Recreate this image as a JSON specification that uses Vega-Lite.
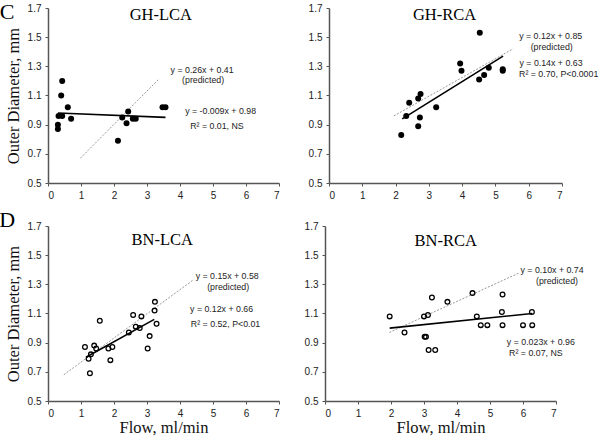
{
  "$schema": "https://vega.github.io/schema/vega-lite/v6.json",
  "padding": {"left": -1, "top": 0, "right": 0, "bottom": 0},
  "background": "white",
  "datasets": {
    "points": [
      {"panel": "GH-LCA", "flow": 0.30, "od": 0.87},
      {"panel": "GH-LCA", "flow": 0.30, "od": 0.90},
      {"panel": "GH-LCA", "flow": 0.32, "od": 0.96},
      {"panel": "GH-LCA", "flow": 0.43, "od": 0.96},
      {"panel": "GH-LCA", "flow": 0.40, "od": 1.10},
      {"panel": "GH-LCA", "flow": 0.43, "od": 1.20},
      {"panel": "GH-LCA", "flow": 0.60, "od": 1.02},
      {"panel": "GH-LCA", "flow": 0.70, "od": 0.94},
      {"panel": "GH-LCA", "flow": 2.12, "od": 0.79},
      {"panel": "GH-LCA", "flow": 2.25, "od": 0.95},
      {"panel": "GH-LCA", "flow": 2.38, "od": 0.91},
      {"panel": "GH-LCA", "flow": 2.43, "od": 0.99},
      {"panel": "GH-LCA", "flow": 2.57, "od": 0.94},
      {"panel": "GH-LCA", "flow": 2.66, "od": 0.94},
      {"panel": "GH-LCA", "flow": 3.47, "od": 1.02},
      {"panel": "GH-LCA", "flow": 3.56, "od": 1.02},
      {"panel": "GH-RCA", "flow": 2.17, "od": 0.83},
      {"panel": "GH-RCA", "flow": 2.32, "od": 0.96},
      {"panel": "GH-RCA", "flow": 2.41, "od": 1.05},
      {"panel": "GH-RCA", "flow": 2.68, "od": 1.08},
      {"panel": "GH-RCA", "flow": 2.75, "od": 1.11},
      {"panel": "GH-RCA", "flow": 2.68, "od": 0.89},
      {"panel": "GH-RCA", "flow": 2.73, "od": 0.95},
      {"panel": "GH-RCA", "flow": 3.22, "od": 1.02},
      {"panel": "GH-RCA", "flow": 3.94, "od": 1.32},
      {"panel": "GH-RCA", "flow": 3.98, "od": 1.27},
      {"panel": "GH-RCA", "flow": 4.53, "od": 1.53},
      {"panel": "GH-RCA", "flow": 4.51, "od": 1.21},
      {"panel": "GH-RCA", "flow": 4.66, "od": 1.24},
      {"panel": "GH-RCA", "flow": 4.80, "od": 1.29},
      {"panel": "GH-RCA", "flow": 5.22, "od": 1.28},
      {"panel": "GH-RCA", "flow": 5.22, "od": 1.27},
      {"panel": "BN-LCA", "flow": 1.12, "od": 0.87},
      {"panel": "BN-LCA", "flow": 1.40, "od": 0.88},
      {"panel": "BN-LCA", "flow": 1.46, "od": 0.86},
      {"panel": "BN-LCA", "flow": 1.30, "od": 0.82},
      {"panel": "BN-LCA", "flow": 1.23, "od": 0.79},
      {"panel": "BN-LCA", "flow": 1.27, "od": 0.69},
      {"panel": "BN-LCA", "flow": 1.57, "od": 1.05},
      {"panel": "BN-LCA", "flow": 1.83, "od": 0.86},
      {"panel": "BN-LCA", "flow": 1.95, "od": 0.87},
      {"panel": "BN-LCA", "flow": 1.89, "od": 0.78},
      {"panel": "BN-LCA", "flow": 2.45, "od": 0.97},
      {"panel": "BN-LCA", "flow": 2.58, "od": 1.09},
      {"panel": "BN-LCA", "flow": 2.66, "od": 1.01},
      {"panel": "BN-LCA", "flow": 2.78, "od": 1.00},
      {"panel": "BN-LCA", "flow": 2.83, "od": 1.08},
      {"panel": "BN-LCA", "flow": 3.08, "od": 0.945},
      {"panel": "BN-LCA", "flow": 3.02, "od": 0.86},
      {"panel": "BN-LCA", "flow": 3.24, "od": 1.18},
      {"panel": "BN-LCA", "flow": 3.23, "od": 1.12},
      {"panel": "BN-LCA", "flow": 3.29, "od": 1.03},
      {"panel": "BN-RCA", "flow": 1.96, "od": 1.08},
      {"panel": "BN-RCA", "flow": 2.41, "od": 0.97},
      {"panel": "BN-RCA", "flow": 3.00, "od": 1.08},
      {"panel": "BN-RCA", "flow": 3.12, "od": 1.09},
      {"panel": "BN-RCA", "flow": 3.02, "od": 0.94},
      {"panel": "BN-RCA", "flow": 3.06, "od": 0.94},
      {"panel": "BN-RCA", "flow": 3.14, "od": 0.85},
      {"panel": "BN-RCA", "flow": 3.34, "od": 0.85},
      {"panel": "BN-RCA", "flow": 3.24, "od": 1.21},
      {"panel": "BN-RCA", "flow": 3.71, "od": 1.18},
      {"panel": "BN-RCA", "flow": 4.47, "od": 1.24},
      {"panel": "BN-RCA", "flow": 4.60, "od": 1.08},
      {"panel": "BN-RCA", "flow": 4.72, "od": 1.02},
      {"panel": "BN-RCA", "flow": 4.92, "od": 1.02},
      {"panel": "BN-RCA", "flow": 5.38, "od": 1.23},
      {"panel": "BN-RCA", "flow": 5.36, "od": 1.11},
      {"panel": "BN-RCA", "flow": 5.38, "od": 1.02},
      {"panel": "BN-RCA", "flow": 6.00, "od": 1.02},
      {"panel": "BN-RCA", "flow": 6.28, "od": 1.02},
      {"panel": "BN-RCA", "flow": 6.27, "od": 1.11}
    ],
    "lines": [
      {"panel": "GH-LCA", "kind": "predicted", "flow": 0.98, "od": 0.67},
      {"panel": "GH-LCA", "kind": "predicted", "flow": 3.35, "od": 1.21},
      {"panel": "GH-LCA", "kind": "fit", "flow": 0.30, "od": 0.98},
      {"panel": "GH-LCA", "kind": "fit", "flow": 3.56, "od": 0.95},
      {"panel": "GH-RCA", "kind": "predicted", "flow": 1.95, "od": 0.96},
      {"panel": "GH-RCA", "kind": "predicted", "flow": 5.53, "od": 1.42},
      {"panel": "GH-RCA", "kind": "fit", "flow": 2.20, "od": 0.94},
      {"panel": "GH-RCA", "kind": "fit", "flow": 5.23, "od": 1.37},
      {"panel": "BN-LCA", "kind": "predicted", "flow": 0.48, "od": 0.68},
      {"panel": "BN-LCA", "kind": "predicted", "flow": 4.40, "od": 1.33},
      {"panel": "BN-LCA", "kind": "fit", "flow": 1.15, "od": 0.80},
      {"panel": "BN-LCA", "kind": "fit", "flow": 3.22, "od": 1.06},
      {"panel": "BN-RCA", "kind": "predicted", "flow": 1.95, "od": 0.97},
      {"panel": "BN-RCA", "kind": "predicted", "flow": 5.90, "od": 1.38},
      {"panel": "BN-RCA", "kind": "fit", "flow": 1.96, "od": 1.00},
      {"panel": "BN-RCA", "kind": "fit", "flow": 6.28, "od": 1.10}
    ],
    "labels": [
      {"panel": "GH-LCA", "role": "title", "flow": 3.42, "od": 1.65, "text": "GH-LCA"},
      {"panel": "GH-LCA", "role": "letter", "flow": -1.24, "od": 1.673, "text": "C"},
      {"panel": "GH-LCA", "role": "eq", "flow": 4.67, "od": 1.272, "text": "y = 0.26x + 0.41"},
      {"panel": "GH-LCA", "role": "eq", "flow": 4.70, "od": 1.203, "text": "(predicted)"},
      {"panel": "GH-LCA", "role": "eq", "flow": 5.23, "od": 0.991, "text": "y = -0.009x + 0.98"},
      {"panel": "GH-LCA", "role": "eq", "flow": 5.12, "od": 0.89, "text": "R² = 0.01, NS"},
      {"panel": "GH-RCA", "role": "title", "flow": 3.47, "od": 1.65, "text": "GH-RCA"},
      {"panel": "GH-RCA", "role": "eq", "flow": 6.66, "od": 1.507, "text": "y = 0.12x + 0.85"},
      {"panel": "GH-RCA", "role": "eq", "flow": 6.69, "od": 1.433, "text": "(predicted)"},
      {"panel": "GH-RCA", "role": "eq", "flow": 6.67, "od": 1.32, "text": "y = 0.14x + 0.63"},
      {"panel": "GH-RCA", "role": "eq", "flow": 6.90, "od": 1.245, "text": "R² = 0.70, P<0.0001"},
      {"panel": "BN-LCA", "role": "title", "flow": 3.46, "od": 1.606, "text": "BN-LCA"},
      {"panel": "BN-LCA", "role": "letter", "flow": -1.24, "od": 1.74, "text": "D"},
      {"panel": "BN-LCA", "role": "eq", "flow": 5.43, "od": 1.356, "text": "y = 0.15x + 0.58"},
      {"panel": "BN-LCA", "role": "eq", "flow": 5.46, "od": 1.283, "text": "(predicted)"},
      {"panel": "BN-LCA", "role": "eq", "flow": 5.26, "od": 1.13, "text": "y = 0.12x + 0.66"},
      {"panel": "BN-LCA", "role": "eq", "flow": 5.38, "od": 1.028, "text": "R² = 0.52, P<0.01"},
      {"panel": "BN-RCA", "role": "title", "flow": 3.66, "od": 1.60, "text": "BN-RCA"},
      {"panel": "BN-RCA", "role": "eq", "flow": 6.88, "od": 1.40, "text": "y = 0.10x + 0.74"},
      {"panel": "BN-RCA", "role": "eq", "flow": 7.03, "od": 1.32, "text": "(predicted)"},
      {"panel": "BN-RCA", "role": "eq", "flow": 6.54, "od": 0.905, "text": "y = 0.023x + 0.96"},
      {"panel": "BN-RCA", "role": "eq", "flow": 6.39, "od": 0.83, "text": "R² = 0.07, NS"}
    ]
  },
  "spacing": 9,
  "vconcat": [
    {
      "bounds": "flush",
      "spacing": 50,
      "hconcat": [
        {
          "width": 231, "height": 175,
          "encoding": {
            "x": {"field": "flow", "type": "quantitative", "scale": {"domain": [0, 7], "nice": false, "zero": false}, "axis": {"values": [0,1,2,3,4,5,6,7], "format": "d", "title": null}},
            "y": {"field": "od", "type": "quantitative", "scale": {"domain": [0.5, 1.7], "nice": false, "zero": false}, "axis": {"values": [0.5,0.7,0.9,1.1,1.3,1.5,1.7], "format": ".1f", "title": "Outer Diameter, mm"}}
          },
          "layer": [
            {"data": {"name": "lines"}, "transform": [{"filter": "datum.panel === 'GH-LCA' && datum.kind === 'predicted'"}], "mark": {"type": "line", "color": "#999999", "strokeWidth": 1, "strokeDash": [2, 1.5]}, "encoding": {}},
            {"data": {"name": "lines"}, "transform": [{"filter": "datum.panel === 'GH-LCA' && datum.kind === 'fit'"}], "mark": {"type": "line", "color": "#000000", "strokeWidth": 1.6}, "encoding": {}},
            {"data": {"name": "points"}, "transform": [{"filter": "datum.panel === 'GH-LCA'"}], "mark": {"type": "circle", "size": 36, "color": "#000000", "opacity": 1}, "encoding": {}},
            {"data": {"name": "labels"}, "transform": [{"filter": "datum.panel === 'GH-LCA' && datum.role === 'title'"}], "mark": {"type": "text", "font": "Liberation Serif", "fontSize": 16.5, "color": "#000000"}, "encoding": {"text": {"field": "text"}}},
            {"data": {"name": "labels"}, "transform": [{"filter": "datum.panel === 'GH-LCA' && datum.role === 'letter'"}], "mark": {"type": "text", "font": "Liberation Serif", "fontSize": 22, "color": "#000000"}, "encoding": {"text": {"field": "text"}}},
            {"data": {"name": "labels"}, "transform": [{"filter": "datum.panel === 'GH-LCA' && datum.role === 'eq'"}], "mark": {"type": "text", "font": "Liberation Sans", "fontSize": 8.8, "color": "#222222"}, "encoding": {"text": {"field": "text"}}}
          ]
        },
        {
          "width": 233, "height": 175,
          "encoding": {
            "x": {"field": "flow", "type": "quantitative", "scale": {"domain": [0, 7], "nice": false, "zero": false}, "axis": {"values": [0,1,2,3,4,5,6,7], "format": "d", "title": null}},
            "y": {"field": "od", "type": "quantitative", "scale": {"domain": [0.5, 1.7], "nice": false, "zero": false}, "axis": {"values": [0.5,0.7,0.9,1.1,1.3,1.5,1.7], "format": ".1f", "title": null}}
          },
          "layer": [
            {"data": {"name": "lines"}, "transform": [{"filter": "datum.panel === 'GH-RCA' && datum.kind === 'predicted'"}], "mark": {"type": "line", "color": "#999999", "strokeWidth": 1, "strokeDash": [2, 1.5]}, "encoding": {}},
            {"data": {"name": "lines"}, "transform": [{"filter": "datum.panel === 'GH-RCA' && datum.kind === 'fit'"}], "mark": {"type": "line", "color": "#000000", "strokeWidth": 1.6}, "encoding": {}},
            {"data": {"name": "points"}, "transform": [{"filter": "datum.panel === 'GH-RCA'"}], "mark": {"type": "circle", "size": 36, "color": "#000000", "opacity": 1}, "encoding": {}},
            {"data": {"name": "labels"}, "transform": [{"filter": "datum.panel === 'GH-RCA' && datum.role === 'title'"}], "mark": {"type": "text", "font": "Liberation Serif", "fontSize": 16.5, "color": "#000000"}, "encoding": {"text": {"field": "text"}}},
            {"data": {"name": "labels"}, "transform": [{"filter": "datum.panel === 'GH-RCA' && datum.role === 'eq'"}], "mark": {"type": "text", "font": "Liberation Sans", "fontSize": 8.8, "color": "#222222"}, "encoding": {"text": {"field": "text"}}}
          ]
        }
      ]
    },
    {
      "bounds": "flush",
      "spacing": 46,
      "hconcat": [
        {
          "width": 231, "height": 175,
          "encoding": {
            "x": {"field": "flow", "type": "quantitative", "scale": {"domain": [0, 7], "nice": false, "zero": false}, "axis": {"values": [0,1,2,3,4,5,6,7], "format": "d", "title": "Flow, ml/min", "titlePadding": 1}},
            "y": {"field": "od", "type": "quantitative", "scale": {"domain": [0.5, 1.7], "nice": false, "zero": false}, "axis": {"values": [0.5,0.7,0.9,1.1,1.3,1.5,1.7], "format": ".1f", "title": "Outer Diameter, mm"}}
          },
          "layer": [
            {"data": {"name": "lines"}, "transform": [{"filter": "datum.panel === 'BN-LCA' && datum.kind === 'predicted'"}], "mark": {"type": "line", "color": "#999999", "strokeWidth": 1, "strokeDash": [2, 1.5]}, "encoding": {}},
            {"data": {"name": "lines"}, "transform": [{"filter": "datum.panel === 'BN-LCA' && datum.kind === 'fit'"}], "mark": {"type": "line", "color": "#000000", "strokeWidth": 1.6}, "encoding": {}},
            {"data": {"name": "points"}, "transform": [{"filter": "datum.panel === 'BN-LCA'"}], "mark": {"type": "point", "shape": "circle", "size": 22, "filled": false, "color": "#000000", "strokeWidth": 1.3, "opacity": 1}, "encoding": {}},
            {"data": {"name": "labels"}, "transform": [{"filter": "datum.panel === 'BN-LCA' && datum.role === 'title'"}], "mark": {"type": "text", "font": "Liberation Serif", "fontSize": 16.5, "color": "#000000"}, "encoding": {"text": {"field": "text"}}},
            {"data": {"name": "labels"}, "transform": [{"filter": "datum.panel === 'BN-LCA' && datum.role === 'letter'"}], "mark": {"type": "text", "font": "Liberation Serif", "fontSize": 22, "color": "#000000"}, "encoding": {"text": {"field": "text"}}},
            {"data": {"name": "labels"}, "transform": [{"filter": "datum.panel === 'BN-LCA' && datum.role === 'eq'"}], "mark": {"type": "text", "font": "Liberation Sans", "fontSize": 8.8, "color": "#222222"}, "encoding": {"text": {"field": "text"}}}
          ]
        },
        {
          "width": 231, "height": 175,
          "encoding": {
            "x": {"field": "flow", "type": "quantitative", "scale": {"domain": [0, 7], "nice": false, "zero": false}, "axis": {"values": [0,1,2,3,4,5,6,7], "format": "d", "title": "Flow, ml/min", "titlePadding": 1}},
            "y": {"field": "od", "type": "quantitative", "scale": {"domain": [0.5, 1.7], "nice": false, "zero": false}, "axis": {"values": [0.5,0.7,0.9,1.1,1.3,1.5,1.7], "format": ".1f", "title": null}}
          },
          "layer": [
            {"data": {"name": "lines"}, "transform": [{"filter": "datum.panel === 'BN-RCA' && datum.kind === 'predicted'"}], "mark": {"type": "line", "color": "#999999", "strokeWidth": 1, "strokeDash": [2, 1.5]}, "encoding": {}},
            {"data": {"name": "lines"}, "transform": [{"filter": "datum.panel === 'BN-RCA' && datum.kind === 'fit'"}], "mark": {"type": "line", "color": "#000000", "strokeWidth": 1.6}, "encoding": {}},
            {"data": {"name": "points"}, "transform": [{"filter": "datum.panel === 'BN-RCA'"}], "mark": {"type": "point", "shape": "circle", "size": 22, "filled": false, "color": "#000000", "strokeWidth": 1.3, "opacity": 1}, "encoding": {}},
            {"data": {"name": "labels"}, "transform": [{"filter": "datum.panel === 'BN-RCA' && datum.role === 'title'"}], "mark": {"type": "text", "font": "Liberation Serif", "fontSize": 16.5, "color": "#000000"}, "encoding": {"text": {"field": "text"}}},
            {"data": {"name": "labels"}, "transform": [{"filter": "datum.panel === 'BN-RCA' && datum.role === 'eq'"}], "mark": {"type": "text", "font": "Liberation Sans", "fontSize": 8.8, "color": "#222222"}, "encoding": {"text": {"field": "text"}}}
          ]
        }
      ]
    }
  ],
  "config": {
    "view": {"stroke": null},
    "axis": {
      "grid": false,
      "domainColor": "#555555",
      "domainWidth": 1.5,
      "tickColor": "#555555",
      "tickSize": 3,
      "labelFont": "Liberation Sans",
      "labelFontSize": 10,
      "labelColor": "#222222",
      "labelPadding": 4,
      "titleFont": "Liberation Serif",
      "titleFontSize": 16.5,
      "titleFontWeight": "normal",
      "titleColor": "#111111",
      "titlePadding": 6
    }
  }
}
